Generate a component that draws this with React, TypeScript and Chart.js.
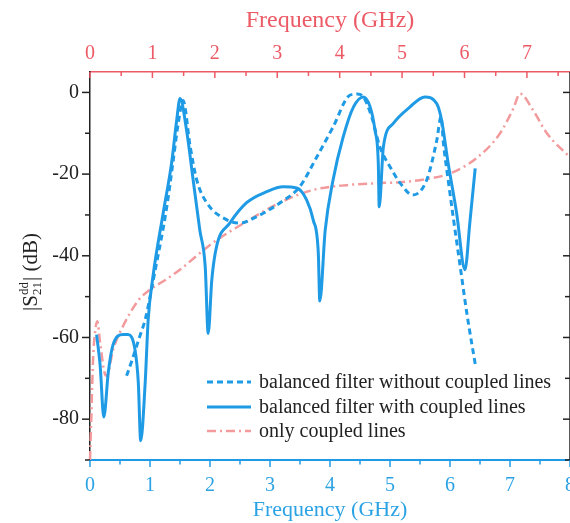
import React, { useEffect, useRef } from 'react';
import { Chart, registerables } from 'chart.js';

Chart.register(...registerables);

// ---- data (bottom axis, GHz / dB) ----
const solidFreq = [0.11, 0.17, 0.23, 0.305, 0.38, 0.55, 0.63, 0.75, 0.805, 0.845, 0.92, 0.97, 1.05, 1.22, 1.36, 1.445, 1.5, 1.61, 1.72, 1.83, 1.92, 1.97, 2.03, 2.11, 2.33, 2.61, 2.945, 3.22, 3.445, 3.61, 3.72, 3.805, 3.83, 3.92, 4.05, 4.22, 4.39, 4.555, 4.67, 4.75, 4.805, 4.82, 4.89, 5.055, 5.33, 5.58, 5.78, 5.86, 5.97, 6.11, 6.25, 6.33, 6.42];
const solidDb = [-59.3, -67, -79.5, -68.5, -62, -59.3, -59.3, -63, -71, -85.3, -71, -55.6, -45, -29.5, -17.3, -6.8, -1.5, -9.3, -21.5, -33.7, -42.6, -59, -45.9, -37.7, -32, -27, -24.3, -23.1, -23.4, -26.3, -31.2, -39.3, -51.1, -33.7, -21.5, -10.9, -3.6, -1.1, -3.6, -9.3, -17.4, -28, -13.3, -7.6, -3.6, -1.1, -2.8, -6.8, -17.4, -29.5, -43.4, -32, -18.6];

const dashFreq = [0.61, 0.695, 0.83, 0.92, 1.08, 1.28, 1.38, 1.47, 1.55, 1.67, 1.78, 1.945, 2.28, 2.5, 2.78, 3.17, 3.5, 3.78, 4.05, 4.33, 4.45, 4.55, 4.695, 4.83, 5.0, 5.17, 5.38, 5.61, 5.78, 5.85, 5.89, 5.97, 6.06, 6.17, 6.28, 6.42];
const dashDb = [-69.4, -65.8, -59.7, -55.6, -44, -28, -17.4, -7.6, -2, -13.3, -21.5, -27, -31.2, -32, -30.4, -27, -23, -15.8, -8.5, -0.7, -0.4, -1, -6, -13.3, -18.2, -22.2, -25.1, -21.5, -11.7, -6, -12.4, -21.5, -31.2, -42.6, -54, -66.5];

// ---- data (top axis, GHz / dB) ----
const coupledFreq = [0.0, 0.02, 0.05, 0.08, 0.117, 0.16, 0.24, 0.27, 0.37, 0.53, 0.77, 0.96, 1.2, 1.44, 1.97, 2.51, 3.04, 3.57, 4.11, 4.65, 4.97, 5.4, 5.77, 6.2, 6.57, 6.78, 6.89, 7.1, 7.32, 7.69];
const coupledDb = [-90, -80, -65, -58.8, -56, -61, -69, -69.4, -63, -57.2, -51, -48.3, -46, -43.4, -36.8, -31.6, -27, -23.9, -22.7, -22.2, -22, -21.2, -19.8, -16, -10, -4, -0.3, -4.4, -10, -15.9];

const legendLabels = ['balanced filter without coupled lines', 'balanced filter with coupled lines', 'only coupled lines'];
const axisTitle = 'Frequency (GHz)';

const BLUE = '#1f9be6';
const BLUE_TXT = '#2ba2e4';
const RED_TXT = '#ec5a66';
const RED_LINE = '#f29a9c';
const DARK = '#222222';
const FONT = '"Liberation Serif", "Times New Roman", serif';

const pts = (xs: number[], ys: number[]) => xs.map((x, i) => ({ x, y: ys[i] }));

const decorPlugin = {
  id: 'decor',
  afterDraw(chart: any) {
    const { ctx, chartArea } = chart;
    const { left, right, top, bottom } = chartArea;
    const y = chart.scales.y;
    const xb = chart.scales.x;
    const xt = chart.scales.x2;
    ctx.save();
    ctx.strokeStyle = DARK;
    ctx.lineWidth = 1.5;
    for (let v = -90; v <= 0; v += 10) {
      const py = y.getPixelForValue(v);
      const major = v % 20 === 0;
      ctx.beginPath();
      ctx.moveTo(left, py);
      ctx.lineTo(left - (major ? 8 : 5), py);
      ctx.stroke();
      ctx.beginPath();
      ctx.moveTo(right, py);
      ctx.lineTo(right - (major ? 7 : 5), py);
      ctx.stroke();
    }
    ctx.beginPath();
    ctx.moveTo(right, top);
    ctx.lineTo(right, bottom);
    ctx.stroke();
    ctx.strokeStyle = BLUE;
    for (let v = 0; v <= 8; v += 0.5) {
      const px = xb.getPixelForValue(v);
      const major = Math.abs(v - Math.round(v)) < 1e-6;
      ctx.beginPath();
      ctx.moveTo(px, bottom);
      ctx.lineTo(px, bottom + (major ? 7 : 4.5));
      ctx.stroke();
    }
    ctx.strokeStyle = RED_TXT;
    for (let v = 0; v <= 7.5; v += 0.5) {
      const px = xt.getPixelForValue(v);
      const major = Math.abs(v - Math.round(v)) < 1e-6;
      ctx.beginPath();
      ctx.moveTo(px, top);
      ctx.lineTo(px, top + (major ? 6 : 4));
      ctx.stroke();
    }
    const rows = [
      { color: BLUE, dash: [6, 4], w: 3 },
      { color: BLUE, dash: [], w: 3 },
      { color: RED_LINE, dash: [9, 4, 2, 4], w: 2.5 },
    ];
    const rowY = [382, 407, 431];
    ctx.font = `20px ${FONT}`;
    ctx.textBaseline = 'middle';
    ctx.textAlign = 'left';
    rows.forEach((r, i) => {
      ctx.strokeStyle = r.color;
      ctx.lineWidth = r.w;
      ctx.setLineDash(r.dash);
      ctx.beginPath();
      ctx.moveTo(207, rowY[i]);
      ctx.lineTo(251, rowY[i]);
      ctx.stroke();
      ctx.setLineDash([]);
      ctx.fillStyle = DARK;
      ctx.fillText(legendLabels[i], 259, rowY[i] + 1);
    });
    ctx.translate(30, (top + bottom) / 2 + 6);
    ctx.rotate(-Math.PI / 2);
    ctx.fillStyle = DARK;
    ctx.textBaseline = 'alphabetic';
    const big = `21px ${FONT}`;
    const small = `13px ${FONT}`;
    ctx.font = big;
    const p1 = '|S';
    const w = ctx.measureText(p1).width;
    ctx.font = small;
    const wSub = Math.max(ctx.measureText('21').width, ctx.measureText('dd').width);
    ctx.font = big;
    const p3 = '| (dB)';
    const w3 = ctx.measureText(p3).width;
    const total = w + wSub + 1 + w3;
    let x0 = -total / 2;
    const base = 7;
    ctx.fillText(p1, x0, base);
    x0 += w;
    ctx.font = small;
    ctx.fillText('dd', x0, base - 9);
    ctx.fillText('21', x0, base + 4);
    x0 += wSub + 1;
    ctx.font = big;
    ctx.fillText(p3, x0, base);
    ctx.restore();
  },
};

export default function App() {
  const ref = useRef<HTMLCanvasElement | null>(null);
  useEffect(() => {
    if (!ref.current) return;
    Chart.defaults.font.family = FONT;
    const chart = new Chart(ref.current, {
      type: 'line',
      data: {
        datasets: [
          {
            label: legendLabels[1],
            data: pts(solidFreq, solidDb),
            borderColor: BLUE,
            borderWidth: 3,
            pointRadius: 0,
            cubicInterpolationMode: 'monotone',
            xAxisID: 'x',
            yAxisID: 'y',
          },
          {
            label: legendLabels[0],
            data: pts(dashFreq, dashDb),
            borderColor: BLUE,
            borderWidth: 3,
            borderDash: [6, 4],
            pointRadius: 0,
            cubicInterpolationMode: 'monotone',
            xAxisID: 'x',
            yAxisID: 'y',
          },
          {
            label: legendLabels[2],
            data: pts(coupledFreq, coupledDb),
            borderColor: RED_LINE,
            borderWidth: 2.5,
            borderDash: [9, 4, 2, 4],
            pointRadius: 0,
            cubicInterpolationMode: 'monotone',
            xAxisID: 'x2',
            yAxisID: 'y',
          },
        ],
      },
      options: {
        animation: false,
        responsive: false,
        maintainAspectRatio: false,
        clip: false as any,
        layout: { padding: { left: 0, right: 30, top: 0, bottom: 0 } },
        plugins: { legend: { display: false }, tooltip: { enabled: false } },
        scales: {
          x: {
            type: 'linear',
            position: 'bottom',
            min: 0,
            max: 8,
            ticks: { stepSize: 1, color: BLUE_TXT, font: { size: 20 }, padding: 14, includeBounds: false },
            grid: { drawOnChartArea: false, drawTicks: false },
            border: { color: BLUE, width: 2 },
            title: { display: true, text: axisTitle, color: BLUE_TXT, font: { size: 22 }, padding: { top: 0, bottom: 0 } },
            afterFit: (s: any) => { s.height = 63; },
          },
          x2: {
            type: 'linear',
            position: 'top',
            min: 0,
            max: 7.69,
            ticks: { stepSize: 1, color: RED_TXT, font: { size: 20 }, padding: 6, includeBounds: false },
            grid: { drawOnChartArea: false, drawTicks: false },
            border: { color: RED_TXT, width: 1.5 },
            title: { display: true, text: axisTitle, color: RED_TXT, font: { size: 24 }, padding: { top: 6, bottom: 0 } },
            afterFit: (s: any) => { s.height = 72; },
          },
          y: {
            type: 'linear',
            position: 'left',
            min: -90,
            max: 5,
            ticks: {
              stepSize: 10,
              includeBounds: false,
              color: DARK,
              font: { size: 20 },
              padding: 11,
              callback: (v: any) => (Number(v) % 20 === 0 ? String(v) : ''),
            },
            grid: { drawOnChartArea: false, drawTicks: false },
            border: { color: DARK, width: 1.5 },
            afterFit: (s: any) => { s.width = 90; },
          },
        },
      },
      plugins: [decorPlugin],
    });
    return () => chart.destroy();
  }, []);
  return (
    <div style={{ position: 'fixed', left: 0, top: 0, width: 570, height: 523, overflow: 'hidden', background: '#fff' }}>
      <canvas ref={ref} width={600} height={523} style={{ display: 'block', width: 600, height: 523 }} />
    </div>
  );
}
